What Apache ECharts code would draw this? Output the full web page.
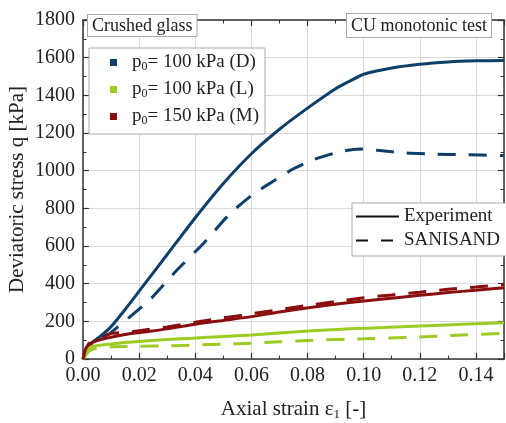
<!DOCTYPE html>
<html>
<head>
<meta charset="utf-8">
<script src="https://cdn.jsdelivr.net/npm/echarts@6/dist/echarts.min.js"></script>
<style>
  html, body { margin: 0; padding: 0; background: #fff; }
  #chart { width: 506px; height: 423px; }
</style>
</head>
<body>
<div id="chart"></div>
<script>
// Axial strain [-] vs deviatoric stress q [kPa]: [strain, q] pairs
const denseExp = [[0,0],[0.001,50],[0.003,85],[0.006,118],[0.01,172],[0.015,263],[0.02,360],[0.03,555],[0.04,750],[0.05,932],[0.06,1090],[0.07,1220],[0.08,1332],[0.09,1435],[0.095,1475],[0.1,1512],[0.11,1545],[0.12,1565],[0.13,1577],[0.14,1583],[0.15,1585]];
const denseModel = [[0,0],[0.002,60],[0.005,95],[0.009,130],[0.014,190],[0.024,318],[0.033,465],[0.043,615],[0.052,766],[0.06,868],[0.065,918],[0.07,965],[0.075,1010],[0.082,1058],[0.09,1095],[0.095,1110],[0.1,1115],[0.105,1108],[0.115,1094],[0.125,1088],[0.135,1085],[0.15,1080]];
const looseExp = [[0,0],[0.0013,48],[0.003,65],[0.0067,74],[0.015,87],[0.027,101],[0.039,110],[0.05,120],[0.06,128],[0.07,138],[0.083,151],[0.095,160],[0.107,167],[0.12,175],[0.13,181],[0.14,187],[0.15,193]];
const looseModel = [[0,0],[0.002,40],[0.005,58],[0.01,65],[0.02,67],[0.03,70],[0.04,74],[0.05,79],[0.06,84],[0.07,91],[0.083,100],[0.1,107],[0.116,115],[0.135,127],[0.15,137]];
const mediumExp = [[0,0],[0.001,55],[0.002,75],[0.004,92],[0.009,112],[0.015,130],[0.021,142],[0.03,160],[0.04,185],[0.05,205],[0.06,225],[0.07,250],[0.083,278],[0.095,300],[0.107,318],[0.12,338],[0.13,353],[0.14,365],[0.15,378]];
const mediumModel = [[0,0],[0.002,80],[0.005,105],[0.01,135],[0.016,142],[0.02,150],[0.03,170],[0.04,195],[0.05,218],[0.06,240],[0.07,262],[0.08,285],[0.09,305],[0.1,325],[0.11,340],[0.12,355],[0.13,370],[0.14,382],[0.15,395]];

const testNames = ['D', 'L', 'M'];
const testLabels = { D: '100 kPa (D)', L: '100 kPa (L)', M: '150 kPa (M)' };
const styleNames = ['Experiment', 'SANISAND'];

const FONT = 'Liberation Serif';
const BLUE = '#0e3f68', GREEN = '#9ccc24', RED = '#8a0e0e';
const DASH = [18, 13];

function curve(name, data, color, dashed) {
  return {
    name: name, type: 'line', data: data, showSymbol: false, symbol: 'none',
    smooth: 0.2, color: color, z: dashed ? 3 : 4,
    lineStyle: { color: color, width: 3, type: dashed ? DASH : 'solid' }
  };
}

function frameAxis(extra) {
  return Object.assign({
    axisLine: { show: true, onZero: false, lineStyle: { color: '#333', width: 1.5 } },
    axisTick: { show: true, inside: true, length: 6, lineStyle: { color: '#333', width: 1.2 } },
    minorTick: { show: true, splitNumber: 2, length: 3.5, lineStyle: { color: '#333', width: 1 } }
  }, extra);
}

const chart = echarts.init(document.getElementById('chart'));
chart.setOption({
  animation: false,
  backgroundColor: '#fff',
  grid: { left: 83, right: 2, top: 20, bottom: 64, outerBoundsMode: 'none', containLabel: false },
  xAxis: [frameAxis({
    type: 'value', min: 0, max: 0.15, interval: 0.02,
    name: '{a|Axial strain ε}{s|1}{a| [-]}', nameLocation: 'middle', nameGap: 38,
    nameTextStyle: { rich: {
      a: { fontFamily: FONT, fontSize: 21, color: '#222', lineHeight: 24 },
      s: { fontFamily: FONT, fontSize: 13, color: '#222', lineHeight: 14, verticalAlign: 'bottom' }
    } },
    axisLabel: { fontFamily: FONT, fontSize: 20, color: '#222', margin: 7, showMaxLabel: false,
      formatter: v => v.toFixed(2) },
    splitLine: { show: true, lineStyle: { color: '#d9d9d9', width: 1 } }
  }), frameAxis({
    type: 'value', min: 0, max: 0.15, interval: 0.02, position: 'top',
    axisLabel: { show: false }, splitLine: { show: false }
  })],
  yAxis: [frameAxis({
    type: 'value', min: 0, max: 1800, interval: 200,
    name: 'Deviatoric stress q [kPa]', nameLocation: 'middle', nameGap: 55, nameMoveOverlap: false,
    nameTextStyle: { fontFamily: FONT, fontSize: 21, color: '#222' },
    axisLabel: { fontFamily: FONT, fontSize: 20, color: '#222', margin: 8, formatter: v => String(v) },
    splitLine: { show: true, lineStyle: { color: '#d9d9d9', width: 1 } }
  }), frameAxis({
    type: 'value', min: 0, max: 1800, interval: 200, position: 'right',
    axisLabel: { show: false }, splitLine: { show: false }
  })],
  legend: [{
    data: testNames, selectedMode: false, orient: 'vertical',
    left: 89, top: 48, icon: 'rect', itemWidth: 7, itemHeight: 7, itemGap: 7,
    padding: [5, 6, 7, 21],
    backgroundColor: '#fff', borderColor: '#aaa', borderWidth: 1, borderRadius: 0,
    formatter: n => '{a|p}{s|0}{a|= ' + testLabels[n] + '}',
    textStyle: { rich: {
      a: { fontFamily: FONT, fontSize: 19, color: '#222', lineHeight: 21 },
      s: { fontFamily: FONT, fontSize: 12, color: '#222', lineHeight: 12, verticalAlign: 'bottom' }
    }, padding: [0, 0, 0, 10] }
  }, {
    data: [
      { name: styleNames[0] },
      { name: styleNames[1], lineStyle: { type: [12, 13] } }
    ],
    selectedMode: false, orient: 'vertical',
    left: 352, top: 203, itemWidth: 43, itemHeight: 14, itemGap: 5,
    padding: [4, 12, 6, 3],
    itemStyle: { opacity: 0 },
    backgroundColor: '#fff', borderColor: '#aaa', borderWidth: 1, borderRadius: 0,
    textStyle: { fontFamily: FONT, fontSize: 19, color: '#222' }
  }],
  graphic: [{
    type: 'text', left: 87, top: 14, z: 20,
    style: { text: 'Crushed glass', font: '18px "Liberation Serif"', fill: '#222',
      backgroundColor: '#fff', borderColor: '#aaa', borderWidth: 1, padding: [2, 4, 1, 4] }
  }, {
    type: 'text', left: 346, top: 13, z: 20,
    style: { text: 'CU monotonic test', font: '18px "Liberation Serif"', fill: '#222',
      backgroundColor: '#fff', borderColor: '#aaa', borderWidth: 1, padding: [3, 4, 2, 4] }
  }],
  series: [
    curve('D', denseExp, BLUE, false),
    curve('D SANISAND', denseModel, BLUE, true),
    curve('L', looseExp, GREEN, false),
    curve('L SANISAND', looseModel, GREEN, true),
    curve('M', mediumExp, RED, false),
    curve('M SANISAND', mediumModel, RED, true),
    { name: styleNames[0], type: 'line', data: [], symbol: 'none', showSymbol: false, color: '#111',
      lineStyle: { color: '#111', width: 2.5, type: 'solid' } },
    { name: styleNames[1], type: 'line', data: [], symbol: 'none', showSymbol: false, color: '#111',
      lineStyle: { color: '#111', width: 2.5, type: [12, 13] } }
  ]
});
</script>
</body>
</html>
